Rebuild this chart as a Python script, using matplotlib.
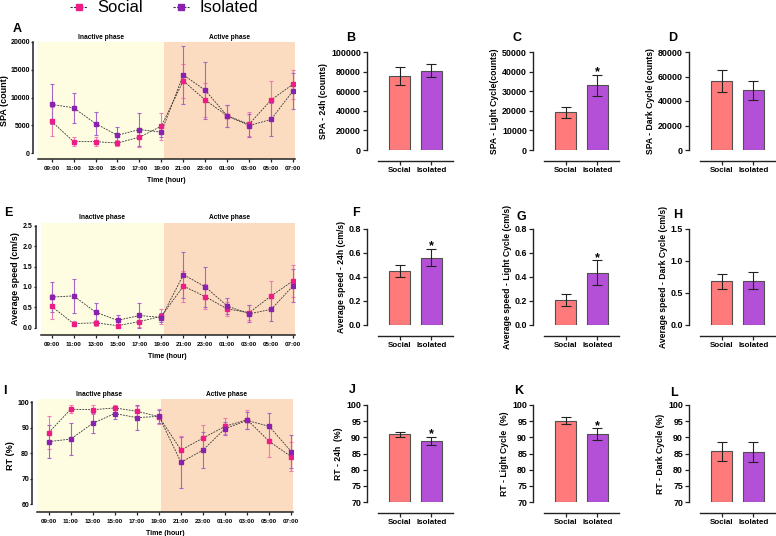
"""
Social vs isolated: SPA, average speed and RT over 24 h (Prism style panels)
"""
import numpy as np
import matplotlib
matplotlib.use('Agg')
import matplotlib.pyplot as plt
from matplotlib.lines import Line2D

plt.rcParams['font.family'] = ['Liberation Sans', 'DejaVu Sans']
plt.rcParams['font.weight'] = 'bold'
plt.rcParams['axes.labelweight'] = 'bold'

# ---- data ----
hours = ['09:00', '11:00', '13:00', '15:00', '17:00', '19:00',
         '21:00', '23:00', '01:00', '03:00', '05:00', '07:00']

spa_social = [5700, 2050, 2050, 1800, 2850, 4830, 13000, 9550, 6700, 5200, 9550, 12400]
spa_social_err = [2600, 800, 800, 600, 1700, 2450, 3000, 3100, 2000, 2100, 3500, 2600]
spa_isolated = [8750, 8150, 5300, 3200, 4230, 3750, 14080, 11300, 6700, 4950, 6040, 11200]
spa_isolated_err = [3600, 2700, 2100, 1400, 3000, 800, 5200, 5100, 2000, 2000, 3000, 3200]

speed_social = [0.52, 0.10, 0.12, 0.05, 0.15, 0.28, 1.02, 0.76, 0.46, 0.37, 0.78, 1.15]
speed_social_err = [0.30, 0.07, 0.07, 0.04, 0.13, 0.19, 0.38, 0.31, 0.17, 0.19, 0.36, 0.39]
speed_isolated = [0.75, 0.78, 0.38, 0.18, 0.30, 0.25, 1.30, 1.00, 0.53, 0.34, 0.45, 1.03]
speed_isolated_err = [0.37, 0.41, 0.22, 0.12, 0.31, 0.10, 0.56, 0.50, 0.19, 0.21, 0.28, 0.40]

rt_social = [88.1, 97.3, 97.1, 97.8, 96.5, 94.4, 81.3, 86.0, 90.6, 93.2, 84.7, 78.7]
rt_social_err = [6.4, 1.5, 1.8, 1.0, 2.2, 2.8, 5.5, 5.0, 3.1, 3.7, 6.3, 5.7]
rt_isolated = [84.6, 85.6, 91.8, 95.6, 94.0, 94.5, 76.5, 81.3, 89.7, 92.9, 90.6, 80.7]
rt_isolated_err = [6.5, 6.2, 4.0, 2.2, 4.9, 2.5, 10.0, 7.2, 2.6, 3.5, 5.2, 6.5]

groups = ['Social', 'Isolated']
spa_24h = [75500, 81000]
spa_24h_err = [9500, 7000]
spa_light = [19200, 33000]
spa_light_err = [2900, 5300]
spa_dark = [56400, 48800]
spa_dark_err = [9000, 7800]
speed_24h = [0.453, 0.562]
speed_24h_err = [0.05, 0.072]
speed_light = [0.205, 0.435]
speed_light_err = [0.05, 0.105]
speed_dark = [0.68, 0.695]
speed_dark_err = [0.115, 0.135]
rt_24h = [90.9, 88.9]
rt_24h_err = [0.75, 1.15]
rt_light = [95.2, 91.0]
rt_light_err = [1.1, 1.8]
rt_dark = [85.7, 85.4]
rt_dark_err = [2.9, 3.15]

# colours
pink = '#EE1C86'
pink_err = '#F27AB4'
purple = '#8A22B0'
purple_err = '#A467C8'
bar_cols = ['#FF7B7B', '#B450D7']
yellow = '#FEFDE2'
orange = '#FCDCC0'
axcol = '#222222'

W, H = 776, 536
fig = plt.figure(figsize=(W / 100, H / 100), dpi=100)
PX = 0.72  # points per pixel


def px_axes(x0, y0, x1, y1):
    return fig.add_axes([x0 / W, 1 - y1 / H, (x1 - x0) / W, (y1 - y0) / H])


def letter(x, y, s):
    fig.text(x / W, 1 - y / H, s, fontsize=9, fontweight='bold', ha='center', va='center')


def line_panel(rect, xlim, ylim, ybounds, yticks, yfmt, ylabel,
               s, s_err, i, i_err, split, ypad):
    ax = px_axes(*rect)
    # spine positions first: moving a spine resets the tick labels
    for sp in ['top', 'right']:
        ax.spines[sp].set_visible(False)
    ax.spines['left'].set_position(('outward', 5 * PX))
    ax.spines['left'].set_bounds(*ybounds)
    for sp in ['left', 'bottom']:
        ax.spines[sp].set_linewidth(1.1)
        ax.spines[sp].set_color(axcol)

    x = np.arange(len(hours))
    ax.axvspan(xlim[0], split, color=yellow, lw=0, zorder=0)
    ax.axvspan(split, xlim[1], color=orange, lw=0, zorder=0)
    for y, e, c, ce in [(s, s_err, pink, pink_err), (i, i_err, purple, purple_err)]:
        ax.errorbar(x, y, yerr=e, fmt='none', ecolor=ce, elinewidth=0.8,
                    capsize=1.6, capthick=0.8, zorder=2)
        ax.plot(x, y, ls=(0, (2.2, 1.3)), color='#333333', lw=0.6, zorder=3)
        ax.plot(x, y, ls='none', marker='s', ms=2.6, color=c, zorder=4)
    ax.set_xlim(*xlim)
    ax.set_ylim(*ylim)
    ax.set_xticks(x)
    ax.set_xticklabels(hours)
    ax.set_yticks(yticks)
    ax.set_yticklabels([yfmt.format(v) for v in yticks])
    ax.tick_params(axis='x', labelsize=4.5, pad=2.5, length=2.2)
    ax.tick_params(axis='y', labelsize=5, pad=0.5, length=1.6)
    ax.tick_params(width=0.9, color=axcol)
    ax.set_xlabel('Time (hour)', fontsize=5, fontweight='bold', labelpad=4.5)
    ax.set_ylabel(ylabel, fontsize=6.5, fontweight='bold', labelpad=ypad)
    mid_l = (xlim[0] + split) / 2
    mid_r = (split + xlim[1]) / 2
    for xm, t in [(mid_l, 'Inactive phase'), (mid_r, 'Active phase')]:
        ax.annotate(t, xy=(xm, 1), xycoords=('data', 'axes fraction'),
                    xytext=(0, 3.5), textcoords='offset points',
                    ha='center', va='center', fontsize=4.8, fontweight='bold')
    return ax


def bar_panel(x0, rowtop, rowbot, ylim, yticks, yfmt, ylabel, vals, errs, star=False):
    ax = px_axes(x0, rowtop, x0 + 75, rowbot)
    for sp in ['top', 'right']:
        ax.spines[sp].set_visible(False)
    ax.spines['left'].set_position(('outward', 11 * PX))
    ax.spines['bottom'].set_position(('outward', 11 * PX))
    for sp in ['left', 'bottom']:
        ax.spines[sp].set_linewidth(1.0)
        ax.spines[sp].set_color(axcol)

    xs = np.arange(2)
    ax.bar(xs, np.array(vals) - ylim[0], bottom=ylim[0], width=0.656, color=bar_cols,
           edgecolor='#505050', linewidth=0.8, zorder=2)
    ax.errorbar(xs, vals, yerr=errs, fmt='none', ecolor='#222222', elinewidth=0.8,
                capsize=3.8, capthick=0.8, zorder=3)
    if star:
        ax.annotate('*', xy=(1, vals[1] + errs[1]), xytext=(0, -2.5),
                    textcoords='offset points', ha='center', va='bottom',
                    fontsize=9, fontweight='bold')
    ax.set_xlim(-0.672, 1.672)
    ax.set_ylim(*ylim)
    ax.set_xticks(xs)
    ax.set_xticklabels(groups)
    ax.set_yticks(yticks)
    ax.set_yticklabels([yfmt.format(v) for v in yticks])
    ax.tick_params(axis='x', labelsize=5.8)
    ax.tick_params(axis='y', labelsize=6.4)
    ax.tick_params(length=2.8, width=0.9, color=axcol, pad=1.5)
    ax.set_ylabel(ylabel, fontsize=6.2, fontweight='bold', labelpad=2)
    return ax


# ---- line panels ----
line_panel((38, 42, 295, 159), (-0.62, 11.09), (-1081, 20000), (0, 20000),
           [0, 5000, 10000, 15000, 20000], '{:d}', 'SPA (count)',
           spa_social, spa_social_err, spa_isolated, spa_isolated_err, 5.1, 0.8)
line_panel((40.7, 222.7, 294.7, 335), (-0.5, 11.07), (-0.179, 2.574), (0, 2.5),
           [0, 0.5, 1.0, 1.5, 2.0, 2.5], '{:.1f}', 'Average speed (cm/s)',
           speed_social, speed_social_err, speed_isolated, speed_isolated_err, 5.1, 2)
line_panel((37, 399, 293, 512.3), (-0.53, 11.08), (56.9, 101.3), (60, 100),
           [60, 70, 80, 90, 100], '{:d}', 'RT (%)',
           rt_social, rt_social_err, rt_isolated, rt_isolated_err, 5.09, 1.5)

# ---- bar panels ----
cols = [378, 544, 700]
rows = [(52, 150), (229, 325), (405, 502)]
bar_panel(cols[0], *rows[0], (0, 100000), list(range(0, 100001, 20000)), '{:d}',
          'SPA - 24h (counts)', spa_24h, spa_24h_err)
bar_panel(cols[1], *rows[0], (0, 50000), list(range(0, 50001, 10000)), '{:d}',
          'SPA - Light Cycle(counts)', spa_light, spa_light_err, star=True)
bar_panel(cols[2], *rows[0], (0, 80000), list(range(0, 80001, 20000)), '{:d}',
          'SPA - Dark Cycle (counts)', spa_dark, spa_dark_err)
bar_panel(cols[0], *rows[1], (0, 0.8), [0, 0.2, 0.4, 0.6, 0.8], '{:.1f}',
          'Average speed - 24h (cm/s)', speed_24h, speed_24h_err, star=True)
bar_panel(cols[1], *rows[1], (0, 0.8), [0, 0.2, 0.4, 0.6, 0.8], '{:.1f}',
          'Average speed - Light Cycle (cm/s)', speed_light, speed_light_err, star=True)
bar_panel(cols[2], *rows[1], (0, 1.5), [0, 0.5, 1.0, 1.5], '{:.1f}',
          'Average speed - Dark Cycle (cm/s)', speed_dark, speed_dark_err)
bar_panel(cols[0], *rows[2], (70, 100), list(range(70, 101, 5)), '{:d}',
          'RT - 24h  (%)', rt_24h, rt_24h_err, star=True)
bar_panel(cols[1], *rows[2], (70, 100), list(range(70, 101, 5)), '{:d}',
          'RT - Light Cycle  (%)', rt_light, rt_light_err, star=True)
bar_panel(cols[2], *rows[2], (70, 100), list(range(70, 101, 5)), '{:d}',
          'RT - Dark Cycle (%)', rt_dark, rt_dark_err)

# panel letters
for x, y, s in [(17, 29, 'A'), (351, 38, 'B'), (517, 38, 'C'), (673, 38, 'D'),
                (8, 213, 'E'), (356, 213, 'F'), (521, 217, 'G'), (678, 215, 'H'),
                (5, 391, 'I'), (352, 390, 'J'), (519, 391, 'K'), (674, 393, 'L')]:
    letter(x, y, s)

# legend
handles = [Line2D([], [], ls=(0, (2, 1.2)), color='#333333', lw=0.8, marker='s',
                  ms=4.5, markerfacecolor=pink, markeredgecolor=pink),
           Line2D([], [], ls=(0, (2, 1.2)), color='#333333', lw=0.8, marker='s',
                  ms=4.5, markerfacecolor=purple, markeredgecolor=purple)]
leg = fig.legend(handles, ['Social', 'Isolated'], loc='center',
                 bbox_to_anchor=(164 / W, 1 - 8 / H), ncol=2, frameon=False,
                 prop={'size': 12, 'weight': 'normal'}, handlelength=1.0,
                 handletextpad=0.6, columnspacing=1.8, borderpad=0)

fig.savefig('out.png', dpi=100)
